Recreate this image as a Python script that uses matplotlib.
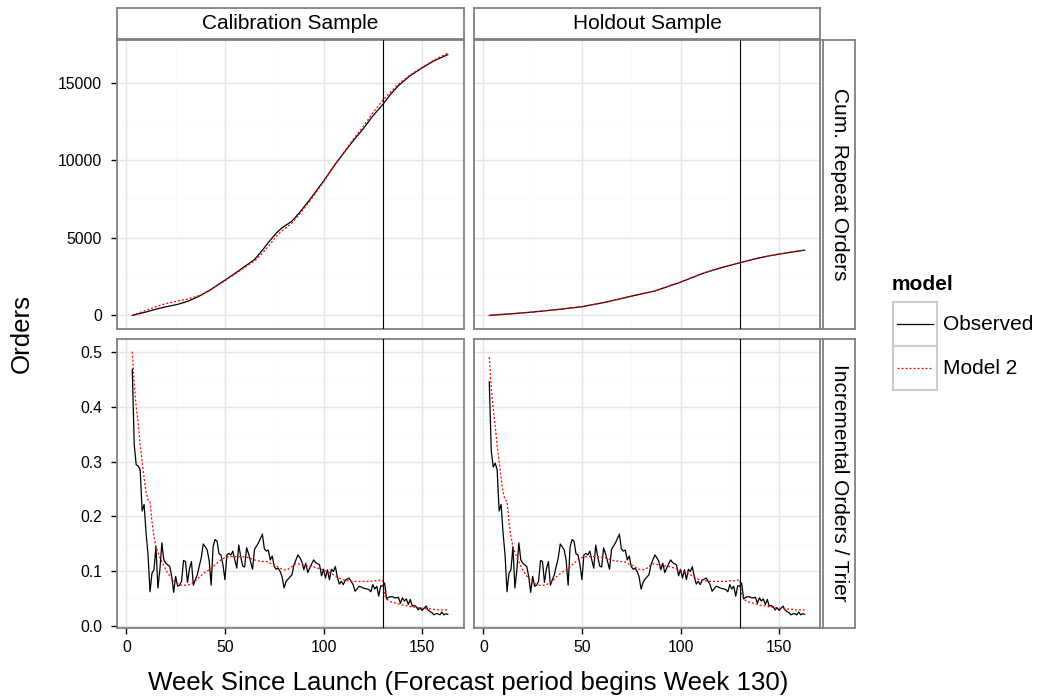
import numpy as np
import matplotlib
matplotlib.use("Agg")
import matplotlib.pyplot as plt

plt.rcParams['font.family'] = ['Liberation Sans', 'DejaVu Sans']

# ---- data ----
weeks = np.arange(3, 164)

cal_inc_obs = [
    0.468, 0.33, 0.294, 0.292, 0.285, 0.21, 0.222, 0.17, 0.13, 0.063,
    0.097, 0.103, 0.145, 0.07, 0.103, 0.152, 0.121, 0.115, 0.112, 0.109,
    0.091, 0.062, 0.091, 0.073, 0.075, 0.082, 0.12, 0.118, 0.08, 0.105,
    0.118, 0.075, 0.085, 0.094, 0.11, 0.125, 0.15, 0.145, 0.139, 0.12,
    0.075, 0.145, 0.158, 0.155, 0.132, 0.13, 0.112, 0.085, 0.13, 0.133,
    0.13, 0.137, 0.121, 0.106, 0.148, 0.127, 0.11, 0.108, 0.143, 0.132,
    0.118, 0.104, 0.14, 0.146, 0.152, 0.16, 0.168, 0.141, 0.137, 0.139,
    0.121, 0.128, 0.109, 0.104, 0.106, 0.1, 0.09, 0.07, 0.082, 0.086,
    0.09, 0.094, 0.112, 0.121, 0.13, 0.125, 0.118, 0.103, 0.115, 0.098,
    0.106, 0.114, 0.121, 0.116, 0.114, 0.112, 0.092, 0.104, 0.088, 0.103,
    0.085, 0.104, 0.1, 0.109, 0.09, 0.077, 0.082, 0.076, 0.084, 0.086,
    0.088, 0.082, 0.076, 0.064, 0.068, 0.073, 0.072, 0.07, 0.069, 0.068,
    0.067, 0.063, 0.076, 0.068, 0.073, 0.055, 0.074, 0.073, 0.079, 0.05,
    0.053, 0.054, 0.054, 0.052, 0.052, 0.053, 0.042, 0.052, 0.046, 0.05,
    0.04, 0.049, 0.037, 0.038, 0.036, 0.03, 0.034, 0.029, 0.033, 0.037,
    0.03, 0.027, 0.025, 0.021, 0.023, 0.023, 0.021, 0.026, 0.021, 0.023, 0.022,
]

cal_inc_mod = [
    0.50, 0.44, 0.40, 0.37, 0.33, 0.30, 0.27, 0.245, 0.23, 0.228,
    0.19, 0.164, 0.145, 0.135, 0.125, 0.118, 0.11, 0.103, 0.097, 0.092,
    0.087, 0.083, 0.08, 0.078, 0.076, 0.075, 0.075, 0.075, 0.075, 0.076,
    0.078, 0.08, 0.083, 0.086, 0.09, 0.093, 0.096, 0.099, 0.101, 0.103,
    0.105, 0.108, 0.112, 0.115, 0.118, 0.121, 0.123, 0.125, 0.126, 0.127,
    0.127, 0.127, 0.127, 0.127, 0.127, 0.127, 0.127, 0.126, 0.126, 0.125,
    0.124, 0.122, 0.121, 0.12, 0.119, 0.119, 0.118, 0.118, 0.118, 0.117,
    0.115, 0.113, 0.112, 0.11, 0.108, 0.106, 0.104, 0.103, 0.103, 0.104,
    0.106, 0.109, 0.112, 0.114, 0.114, 0.113, 0.112, 0.112, 0.111, 0.11,
    0.11, 0.109, 0.108, 0.107, 0.106, 0.105, 0.104, 0.103, 0.101, 0.1,
    0.098, 0.096, 0.094, 0.092, 0.09, 0.088, 0.086, 0.085, 0.084, 0.083,
    0.083, 0.082, 0.082, 0.082, 0.082, 0.082, 0.082, 0.082, 0.082, 0.082,
    0.082, 0.082, 0.083, 0.083, 0.083, 0.084, 0.084, 0.084, 0.056, 0.05,
    0.047, 0.045, 0.044, 0.043, 0.042, 0.041, 0.04, 0.039, 0.038, 0.038,
    0.037, 0.036, 0.036, 0.035, 0.035, 0.034, 0.034, 0.033, 0.033, 0.032,
    0.032, 0.032, 0.031, 0.031, 0.031, 0.03, 0.03, 0.03, 0.03, 0.03, 0.03,
]

hold_inc_obs = [
    0.445, 0.32, 0.29, 0.297, 0.285, 0.21, 0.222, 0.17, 0.13, 0.063,
    0.097, 0.103, 0.145, 0.07, 0.103, 0.152, 0.121, 0.115, 0.112, 0.109,
    0.091, 0.062, 0.091, 0.073, 0.075, 0.082, 0.12, 0.118, 0.08, 0.105,
    0.118, 0.075, 0.085, 0.094, 0.11, 0.125, 0.15, 0.145, 0.139, 0.12,
    0.075, 0.145, 0.158, 0.155, 0.132, 0.13, 0.112, 0.085, 0.13, 0.133,
    0.13, 0.137, 0.121, 0.106, 0.148, 0.127, 0.11, 0.108, 0.143, 0.132,
    0.118, 0.104, 0.14, 0.146, 0.152, 0.16, 0.168, 0.141, 0.137, 0.139,
    0.121, 0.128, 0.109, 0.104, 0.106, 0.1, 0.09, 0.068, 0.08, 0.086,
    0.09, 0.094, 0.112, 0.121, 0.13, 0.125, 0.118, 0.103, 0.115, 0.098,
    0.106, 0.114, 0.121, 0.116, 0.114, 0.112, 0.092, 0.104, 0.088, 0.103,
    0.085, 0.104, 0.1, 0.109, 0.09, 0.077, 0.082, 0.076, 0.084, 0.086,
    0.088, 0.082, 0.076, 0.064, 0.068, 0.073, 0.072, 0.07, 0.069, 0.068,
    0.067, 0.063, 0.076, 0.068, 0.073, 0.055, 0.074, 0.073, 0.079, 0.05,
    0.053, 0.054, 0.054, 0.052, 0.052, 0.053, 0.042, 0.052, 0.046, 0.05,
    0.04, 0.049, 0.037, 0.038, 0.036, 0.03, 0.034, 0.029, 0.033, 0.037,
    0.03, 0.027, 0.025, 0.021, 0.023, 0.023, 0.021, 0.026, 0.021, 0.023, 0.022,
]

hold_inc_mod = [
    0.49, 0.435, 0.395, 0.365, 0.33, 0.30, 0.27, 0.245, 0.23, 0.228,
    0.19, 0.164, 0.145, 0.135, 0.125, 0.118, 0.11, 0.103, 0.097, 0.092,
    0.087, 0.083, 0.08, 0.078, 0.076, 0.075, 0.075, 0.075, 0.075, 0.076,
    0.078, 0.08, 0.083, 0.086, 0.09, 0.093, 0.096, 0.099, 0.101, 0.103,
    0.105, 0.108, 0.112, 0.115, 0.118, 0.121, 0.123, 0.125, 0.126, 0.127,
    0.127, 0.127, 0.127, 0.127, 0.127, 0.127, 0.127, 0.126, 0.126, 0.125,
    0.124, 0.122, 0.121, 0.12, 0.119, 0.119, 0.118, 0.118, 0.118, 0.117,
    0.115, 0.113, 0.112, 0.11, 0.108, 0.106, 0.104, 0.103, 0.103, 0.104,
    0.106, 0.109, 0.112, 0.114, 0.114, 0.113, 0.112, 0.112, 0.111, 0.11,
    0.11, 0.109, 0.108, 0.107, 0.106, 0.105, 0.104, 0.103, 0.101, 0.1,
    0.098, 0.096, 0.094, 0.092, 0.09, 0.088, 0.086, 0.085, 0.084, 0.083,
    0.083, 0.082, 0.082, 0.082, 0.082, 0.082, 0.082, 0.082, 0.082, 0.082,
    0.082, 0.082, 0.083, 0.083, 0.083, 0.084, 0.084, 0.085, 0.058, 0.051,
    0.047, 0.045, 0.044, 0.043, 0.042, 0.041, 0.04, 0.039, 0.038, 0.038,
    0.037, 0.036, 0.036, 0.035, 0.035, 0.034, 0.034, 0.033, 0.033, 0.032,
    0.032, 0.032, 0.031, 0.031, 0.031, 0.03, 0.03, 0.03, 0.03, 0.03, 0.03,
]

cal_cum_weeks = [3, 10, 15, 20, 26, 31, 37, 42, 45, 50, 55, 60, 65, 69, 73, 76, 79, 84, 88,
                 93, 100, 106, 112, 116, 120, 125, 130, 134, 138, 144, 150, 156, 163]
cal_cum_obs = [0, 220, 400, 550, 710, 900, 1240, 1600, 1850, 2270, 2700, 3150, 3600, 4200, 4850,
               5300, 5650, 6070, 6650, 7450, 8650, 9750, 10750, 11400, 12000, 12850, 13580,
               14250, 14800, 15450, 15950, 16400, 16800]
cal_cum_mod = [0, 330, 560, 760, 920, 1050, 1280, 1580, 1830, 2230, 2650, 3100, 3500, 4000, 4600,
               5100, 5450, 5950, 6550, 7350, 8600, 9750, 10800, 11500, 12150, 13050, 13850,
               14400, 14900, 15500, 15980, 16450, 16900]

hold_cum_weeks = [3, 15, 25, 37, 50, 62, 75, 87, 100, 112, 122, 130, 138, 146, 155, 163]
hold_cum_obs = [0, 110, 215, 370, 560, 850, 1240, 1570, 2140, 2740, 3120, 3390, 3650, 3860, 4050, 4200]
hold_cum_mod = [0, 115, 220, 370, 555, 840, 1230, 1575, 2150, 2750, 3130, 3400, 3660, 3870, 4060, 4220]

col_labels = ['Calibration Sample', 'Holdout Sample']
row_labels = ['Cum. Repeat Orders', 'Incremental Orders / Trier']
forecast_week = 130

# ---- layout (pixels) ----
W, H = 1037, 700
fig = plt.figure(figsize=(W / 100, H / 100), dpi=100)


def px_axes(x0, y0, x1, y1):
    return fig.add_axes([x0 / W, 1 - y1 / H, (x1 - x0) / W, (y1 - y0) / H])


cols = [(116.5, 463.5), (473.5, 820.5)]
rows = [(40, 328.5), (339, 627.5)]
border = '#7F7F7F'

panels = [
    [(cal_cum_weeks, cal_cum_obs, cal_cum_mod), (hold_cum_weeks, hold_cum_obs, hold_cum_mod)],
    [(weeks, cal_inc_obs, cal_inc_mod), (weeks, hold_inc_obs, hold_inc_mod)],
]
ylims = [(-845, 17745), (-0.002, 0.523)]
yticks = [[0, 5000, 10000, 15000], [0.0, 0.1, 0.2, 0.3, 0.4, 0.5]]
yminor = [[2500, 7500, 12500, 17500], [0.05, 0.15, 0.25, 0.35, 0.45]]
ylabels = [['0', '5000', '10000', '15000'], ['0.0', '0.1', '0.2', '0.3', '0.4', '0.5']]

for r in range(2):
    for c in range(2):
        ax = px_axes(cols[c][0], rows[r][0], cols[c][1], rows[r][1])
        x, obs, mod = panels[r][c]
        ax.set_xlim(-5, 171)
        ax.set_ylim(*ylims[r])
        for v in [25, 75, 125]:
            ax.axvline(v, color='#FAFAFA', lw=0.6, zorder=0)
        for v in yminor[r]:
            ax.axhline(v, color='#FAFAFA', lw=0.6, zorder=0)
        for v in [0, 50, 100, 150]:
            ax.axvline(v, color='#E5E5E5', lw=1.0, zorder=0)
        for v in yticks[r]:
            ax.axhline(v, color='#E5E5E5', lw=1.0, zorder=0)
        ax.plot(x, obs, color='black', lw=0.9, zorder=3)
        ax.plot(x, mod, color='#FF0000', lw=0.9, linestyle=(0, (1.6, 1.6)), zorder=4)
        ax.axvline(forecast_week, color='black', lw=0.8, zorder=5)
        for s in ax.spines.values():
            s.set_color(border)
            s.set_linewidth(1.3)
        ax.tick_params(length=4.3, width=1.0, color='black', labelsize=11.3, labelcolor='black', pad=6)
        ax.set_xticks([0, 50, 100, 150])
        ax.set_yticks(yticks[r])
        if c == 0:
            ax.set_yticklabels(ylabels[r])
        else:
            ax.tick_params(axis='y', left=False, labelleft=False)
        if r == 1:
            ax.set_xticklabels(['0', '50', '100', '150'])
            ax.tick_params(axis='x', pad=5)
        else:
            ax.tick_params(axis='x', bottom=False, labelbottom=False)

# strips
for c in range(2):
    s = px_axes(cols[c][0], 8, cols[c][1], 38.5)
    s.set_xticks([])
    s.set_yticks([])
    s.set_facecolor('white')
    for sp in s.spines.values():
        sp.set_color(border)
        sp.set_linewidth(1.3)
    s.text(0.5, 0.5, col_labels[c], ha='center', va='center', fontsize=15, transform=s.transAxes)

for r in range(2):
    s = px_axes(823, rows[r][0], 855, rows[r][1])
    s.set_xticks([])
    s.set_yticks([])
    s.set_facecolor('white')
    for sp in s.spines.values():
        sp.set_color(border)
        sp.set_linewidth(1.3)
    s.text(0.5, 0.5, row_labels[r], ha='center', va='center', rotation=-90,
           fontsize=15, transform=s.transAxes)

# axis titles
fig.text(468 / W, 1 - 683 / H, 'Week Since Launch (Forecast period begins Week 130)',
         ha='center', va='center', fontsize=18.6)
fig.text(22 / W, 1 - 333 / H, 'Orders', ha='center', va='center', rotation=90, fontsize=18.6)

# legend
fig.text(892 / W, 1 - 284 / H, 'model', ha='left', va='center', fontsize=15, fontweight='bold')
legend_items = [('Observed', 'black', '-'), ('Model 2', '#FF0000', (0, (1.6, 1.6)))]
for i, (lab, colr, ls) in enumerate(legend_items):
    y0 = 302 + 44 * i
    k = px_axes(893, y0, 937, y0 + 44)
    k.set_xlim(0, 1)
    k.set_ylim(0, 1)
    k.set_xticks([])
    k.set_yticks([])
    for sp in k.spines.values():
        sp.set_color('#CCCCCC')
        sp.set_linewidth(1.5)
    k.plot([0.1, 0.9], [0.5, 0.5], color=colr, lw=0.9, linestyle=ls)
    fig.text(943 / W, 1 - (y0 + 22) / H, lab, ha='left', va='center', fontsize=15)

fig.savefig('out.png', dpi=100)
